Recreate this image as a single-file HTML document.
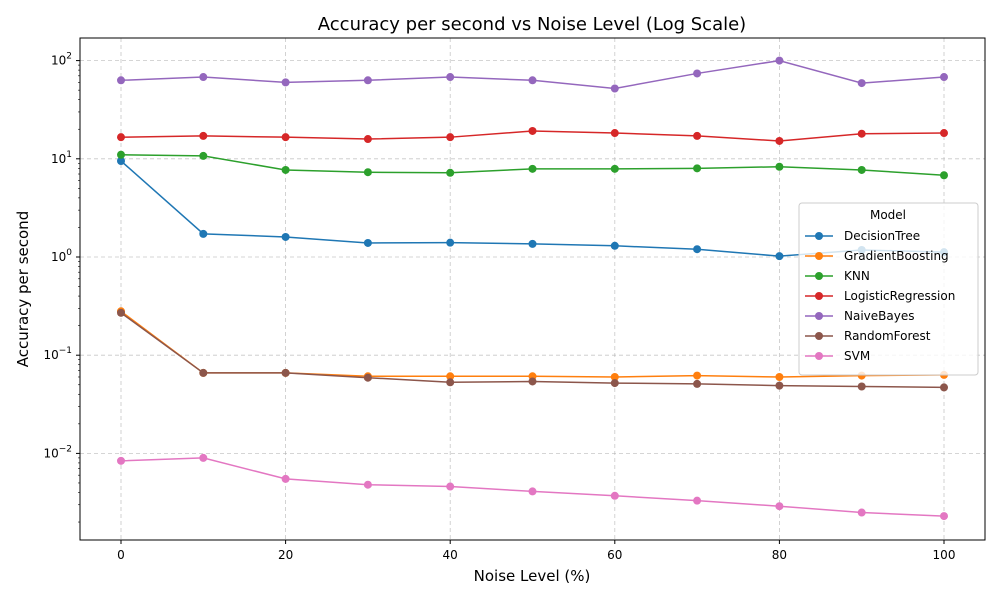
<!DOCTYPE html>
<html><head><meta charset="utf-8"><style>
body{margin:0;background:#fff;font-family:"Liberation Sans","DejaVu Sans",sans-serif}
svg text{font-family:"DejaVu Sans","Liberation Sans",sans-serif}
</style></head><body>
<svg id="c" width="1000" height="600"></svg>
<script>
const xValues=[0,10,20,30,40,50,60,70,80,90,100];
const seriesNames=["DecisionTree","GradientBoosting","KNN","LogisticRegression","NaiveBayes","RandomForest","SVM"];
const colors=["#1f77b4","#ff7f0e","#2ca02c","#d62728","#9467bd","#8c564b","#e377c2"];
const decisionTree=[9.5,1.72,1.6,1.39,1.4,1.36,1.3,1.2,1.02,1.18,1.12];
const gradientBoosting=[0.28,0.066,0.066,0.061,0.061,0.061,0.060,0.062,0.060,0.062,0.063];
const knn=[11,10.7,7.7,7.3,7.2,7.9,7.9,8.0,8.3,7.7,6.8];
const logisticRegression=[16.6,17.1,16.6,15.9,16.6,19.2,18.3,17.1,15.2,18,18.3];
const naiveBayes=[63,68,60,63,68,63,52,74,100,59,68];
const randomForest=[0.27,0.066,0.066,0.059,0.053,0.054,0.052,0.051,0.049,0.048,0.047];
const svm=[0.0084,0.009,0.0055,0.0048,0.0046,0.0041,0.0037,0.0033,0.0029,0.0025,0.0023];
const allSeries=[decisionTree,gradientBoosting,knn,logisticRegression,naiveBayes,randomForest,svm];
const xTicks=[0,20,40,60,80,100];
const yTickExps=[-2,-1,0,1,2];

const L=80,R=985,T=38,B=540;
const xs=v=>121+(v-0)*(944-121)/100;
const ys=v=>257-Math.log10(v)*98.2;
const svg=document.getElementById('c');
const NS="http://www.w3.org/2000/svg";
function mk(t,a,p){const e=document.createElementNS(NS,t);for(const k in a)e.setAttribute(k,a[k]);(p||svg).appendChild(e);return e;}

// grid
xTicks.forEach(v=>{const g=mk('line',{x1:xs(v),x2:xs(v),y1:T,y2:B,stroke:'#b0b0b0','stroke-width':0.8,'stroke-dasharray':'4,3',opacity:0.7});

});
yTickExps.forEach(e=>{const y=ys(Math.pow(10,e));const g=mk('line',{x1:L,x2:R,y1:y,y2:y,stroke:'#b0b0b0','stroke-width':0.8,'stroke-dasharray':'4,3',opacity:0.7});

});

// axes frame
const fr=mk('rect',{x:L,y:T,width:R-L,height:B-T,fill:'none',stroke:'#000','stroke-width':1});



// x ticks
xTicks.forEach(v=>{const x=xs(v);mk('line',{x1:x,x2:x,y1:B,y2:B+4,stroke:'#000'});
const t=mk('text',{x:x,y:B+19,'text-anchor':'middle','font-size':12});t.textContent=v;

});
// y ticks
for(let e=-3;e<=2;e++){for(let m=1;m<10;m++){const v=m*Math.pow(10,e);const y=ys(v);if(y<T||y>B)continue;
if(m===1){mk('line',{x1:L-4,x2:L,y1:y,y2:y,stroke:'#000'});
const t=mk('text',{x:L-8,y:y+4,'text-anchor':'end','font-size':12});t.innerHTML='10<tspan dy="-6" font-size="9">'+(e<0?'\u2212'+(-e):e)+'</tspan>';

}
else mk('line',{x1:L-2,x2:L,y1:y,y2:y,stroke:'#000','stroke-width':0.6});}}

// series
allSeries.forEach((s,i)=>{const g=mk('g',{});


mk('polyline',{points:s.map((v,j)=>xs(xValues[j])+','+ys(v)).join(' '),fill:'none',stroke:colors[i],'stroke-width':1.5},g);
s.forEach((v,j)=>{const c=mk('circle',{cx:xs(xValues[j]),cy:ys(v),r:4,fill:colors[i]},g);

});});

// titles
let t=mk('text',{x:532,y:30,'text-anchor':'middle','font-size':18});t.textContent='Accuracy per second vs Noise Level (Log Scale)';

t=mk('text',{x:532,y:581,'text-anchor':'middle','font-size':15});t.textContent='Noise Level (%)';

t=mk('text',{x:28,y:289,'text-anchor':'middle','font-size':15,transform:'rotate(-90 28 289)'});t.textContent='Accuracy per second';


// legend
const lg=mk('g',{});


mk('rect',{x:799,y:203,width:179,height:172,rx:3,fill:'#fff','fill-opacity':0.8,stroke:'#ccc'},lg);
t=mk('text',{x:888,y:219,'text-anchor':'middle','font-size':12},lg);t.textContent='Model';
seriesNames.forEach((n,i)=>{const y=236+i*20;const e=mk('g',{},lg);


mk('line',{x1:805,x2:833,y1:y,y2:y,stroke:colors[i],'stroke-width':1.5},e);
mk('circle',{cx:819,cy:y,r:4,fill:colors[i]},e);
const tt=mk('text',{x:844,y:y+4,'font-size':12},e);tt.textContent=n;});
</script>
</body></html>
